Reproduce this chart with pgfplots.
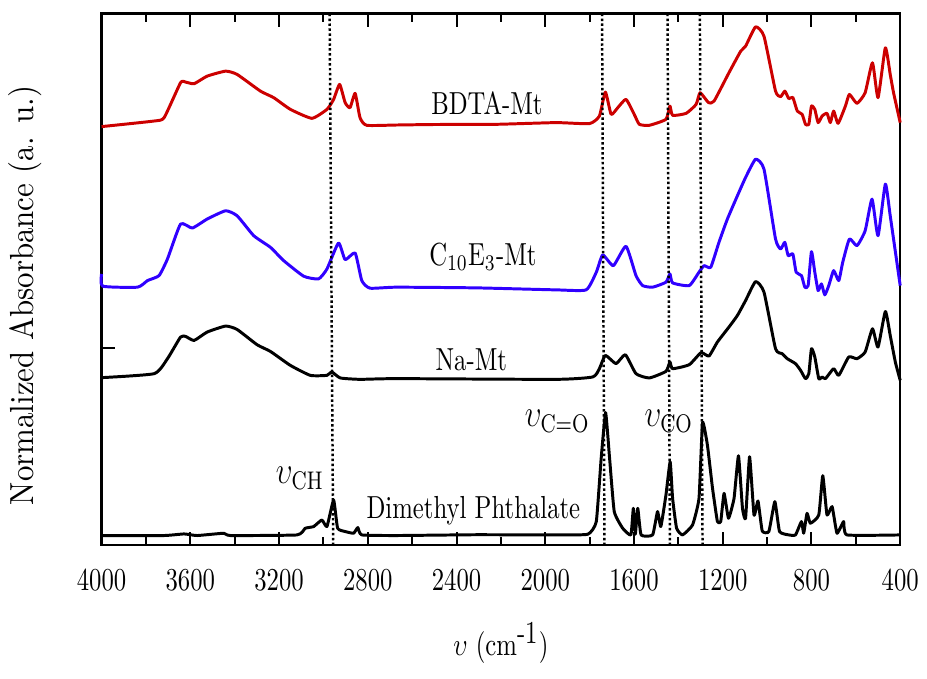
\documentclass[border=0pt]{standalone}
\usepackage{graphicx}
\usepackage{pgfplots}
\pgfplotsset{compat=1.18}
\definecolor{bdta}{RGB}{204,0,0}
\definecolor{cten}{RGB}{48,0,255}
\newcommand{\vs}[1]{\scalebox{1}[1.29]{#1}}
\begin{document}
\begin{tikzpicture}
\begin{axis}[
  scale only axis, width=323pt, height=215pt,
  x dir=reverse, xmin=400, xmax=4000, ymin=0, ymax=533,
  xtick={400,800,...,4000}, minor x tick num=1,
  ytick={198}, yticklabels={}, ytick pos=left,
  tick align=inside,
  major tick length=5.3pt, minor tick length=3.2pt,
  axis line style={line width=0.9pt},
  every tick/.style={black, line width=0.8pt},
  /pgf/number format/set thousands separator={},
  xticklabel={\vs{$\pgfmathprintnumber{\tick}$}},
  xticklabel style={yshift=-6.5pt},
  xlabel={\vs{$\upsilon$ (cm$^{\textrm{-1}}$)}},
  xlabel style={yshift=-6pt},
  ylabel={\scalebox{1.25}[1.35]{Normalized Absorbance (a. u.)}},
  ylabel style={at={(axis description cs:-0.096,0.47)}, anchor=center},
  clip=false,
]
% BDTA-Mt
\addplot[bdta, line width=1.2pt, line join=round, smooth, tension=0.3] coordinates {
(4000,419.7) (3763,425.3) (3718,428.7) (3644,463.7) (3621,464.3) (3583,462.7) (3524,470.3)
(3441,475.3) (3389,472) (3284,455.3) (3224,448.7) (3149,437) (3052,428) (2984,437)
(2954,447) (2927,462) (2902,443.7) (2880,438.7) (2857,453) (2835,428.7) (2805,421)
(2670,421.3) (2500,421.8) (2220,422) (1951,423.7) (1801,422.7) (1756,430.3) (1729,454.3)
(1703,432) (1673,438.7) (1636,447) (1599,432) (1576,422) (1531,421) (1456,427) (1438,440.3)
(1426,431) (1365,433) (1320,442) (1302,453.7) (1264,443.7) (1239,445.3) (1172,473.7)
(1119,495.3) (1097,500.3) (1052,519.7) (1014,510.3) (962,455.3) (939,449.7) (920,455.3)
(902,447.7) (884,449) (864,435.3) (842,432) (827,422) (812,422) (800,440.3) (785,437)
(770,423.7) (752,430.3) (730,433) (715,423.7) (700,435.3) (680,423) (647,440.3) (629,452)
(595,443) (558,453.7) (525,483.7) (500,448.7) (467,498.7) (445,472) (430,453.7) (400,423.7)
};
% C10E3-Mt
\addplot[cten, line width=1.2pt, line join=round, smooth, tension=0.3] coordinates {
(4000,272) (3995,259.7) (3838,258.7) (3793,265.3) (3741,270.3) (3703,287) (3644,322)
(3591,318) (3524,327) (3441,335.3) (3389,330.3) (3314,310.3) (3239,298.7) (3179,285.3)
(3089,269.7) (3022,267) (2984,277) (2932,303) (2902,286.3) (2857,293) (2827,265.3)
(2790,257.7) (2670,258.7) (2310,258) (1951,256) (1816,256) (1770,273.7) (1741,291)
(1693,280.3) (1636,299.7) (1591,270.3) (1561,260.3) (1516,258.7) (1456,263.7) (1438,272)
(1426,263) (1351,260.3) (1307,273.7) (1284,280.3) (1254,278.7) (1217,303.7) (1179,327)
(1134,350.3) (1097,368.7) (1052,387) (1014,377) (962,307) (939,297) (920,303.7) (905,290.3)
(884,292) (869,273.7) (845,270.3) (830,258.7) (815,260.3) (800,294.3) (785,273.7)
(770,255.3) (755,262) (740,251) (722,260.3) (700,275.3) (677,265.3) (659,283.7) (629,307)
(595,300.3) (558,315.3) (527,347) (500,310.3) (467,362) (445,330.3) (400,260.3)
};
% Na-Mt
\addplot[black, line width=1.2pt, line join=round, smooth, tension=0.3] coordinates {
(4000,168) (3763,172) (3703,187) (3644,208.7) (3621,209.3) (3583,205.3) (3524,213.7)
(3441,219.7) (3389,216.3) (3299,201) (3239,194.3) (3149,180.3) (3059,170.3) (2984,170.3)
(2962,173.7) (2924,167.7) (2835,166.3) (2670,167) (1951,166.3) (1786,168.7) (1756,177)
(1729,190.3) (1681,182) (1639,191) (1591,172) (1531,167.7) (1456,174.3) (1438,183.7)
(1426,177) (1351,181) (1298,193) (1262,189.7) (1224,203.7) (1172,218.7) (1134,230.3)
(1097,245.3) (1052,264.3) (1014,253.7) (962,197) (932,192) (909,187) (872,182) (849,175.3)
(827,167) (812,172) (800,197) (785,188.7) (767,167) (752,168.7) (737,167) (700,177)
(677,170.3) (632,188.7) (595,187) (558,193.7) (525,217) (500,198.7) (467,234.3) (445,210.3)
(422,183.7) (400,165.3)
};
% Dimethyl Phthalate
\addplot[black, line width=1.2pt, line join=round, smooth, tension=0.25] coordinates {
(4000,9.7) (3718,9.7) (3628,11.3) (3569,9.7) (3449,12) (3419,9.7) (3119,10.3) (3082,17)
(3044,18.7) (3007,25.3) (2984,18.7) (2954,45.3) (2936,17) (2902,13.7) (2864,12) (2845,17.7)
(2827,10.3) (2670,9.7) (2310,10.5) (1951,10.3) (1808,11) (1770,23.7) (1748,87) (1728,133)
(1710,87) (1689,33.7) (1651,17) (1614,10.3) (1603,37) (1594,11) (1583,37) (1568,10.3)
(1516,10.3) (1494,33.7) (1479,18.7) (1456,50.3) (1437,83.7) (1426,47) (1408,17) (1381,10.3)
(1336,20.3) (1307,47) (1291,123) (1269,100.3) (1246,57) (1224,23.7) (1209,23.7) (1194,52)
(1174,27) (1149,47) (1129,89.7) (1111,37) (1097,27) (1079,88.7) (1059,30.3) (1041,44.3)
(1022,14.3) (992,13.7) (965,43.7) (944,13.7) (902,10.3) (872,10.3) (845,23.7) (835,12)
(820,32) (805,22) (767,30.3) (749,69.7) (730,30.3) (707,38.7) (685,12) (655,23.7)
(640,10.3) (400,10.3)
};
% reference lines
\addplot[black, densely dotted, line width=1pt] coordinates {(2956,0) (2972,533)};
\addplot[black, densely dotted, line width=1pt] coordinates {(1733,0) (1744,533)};
\addplot[black, densely dotted, line width=1pt] coordinates {(1438,0) (1449,533)};
\addplot[black, densely dotted, line width=1pt] coordinates {(1291,0) (1303,533)};
% labels
\node[anchor=base] at (axis cs:2263,432) {\vs{BDTA-Mt}};
\node[anchor=base] at (axis cs:2281,280) {\vs{C$_{10}$E$_3$-Mt}};
\node[anchor=base] at (axis cs:2333,175) {\vs{Na-Mt}};
\node[anchor=base] at (axis cs:2324,27) {\vs{Dimethyl Phthalate}};
\node[anchor=base, font=\large] at (axis cs:3106,62) {\vs{$\upsilon_{\mathrm{CH}}$}};
\node[anchor=base, font=\large] at (axis cs:1946,119) {\vs{$\upsilon_{\mathrm{C=O}}$}};
\node[anchor=base, font=\large] at (axis cs:1443,119) {\vs{$\upsilon_{\mathrm{CO}}$}};
\end{axis}
\path (current axis.north) ++(0,5.5pt) coordinate (topmargin);
\path (current axis.outer south) ++(0,-3pt) coordinate (botmargin);
\end{tikzpicture}
\end{document}
